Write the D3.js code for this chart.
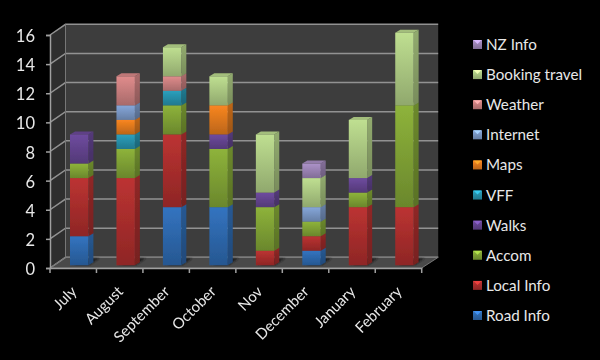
<!DOCTYPE html>
<html>
<head>
<meta charset="utf-8">
<script src="https://cdn.jsdelivr.net/npm/d3@7"></script>
<style>
    html, body { margin: 0; padding: 0; background: #000; }
    text { font-family: Lato, "Open Sans", sans-serif; fill: #e8e8e8; }
    .axis text { font-size: 16.5px; }
    .legend text { font-size: 15.2px; }
</style>
</head>
<body>
<svg id="chart" width="600" height="360"></svg>
<script>
const months = ["July", "August", "September", "October", "Nov", "December", "January", "February"];
const seriesNames = ["Road Info", "Local Info", "Accom", "Walks", "VFF", "Maps", "Internet", "Weather", "Booking travel", "NZ Info"];
const seriesColours = ["#3272bd", "#b93231", "#8bb03a", "#6c4a9c", "#2a9dba", "#f58420", "#84a4d6", "#dc8a8a", "#bcdb8e", "#a98fc4"];
const yTicks = [0, 2, 4, 6, 8, 10, 12, 14, 16];

const roadInfo = [2, 0, 4, 4, 0, 1, 0, 0];
const localInfo = [4, 6, 5, 0, 1, 1, 4, 4];
const accom = [1, 2, 2, 4, 3, 1, 1, 7];
const walks = [2, 0, 0, 1, 1, 0, 1, 0];
const vff = [0, 1, 1, 0, 0, 0, 0, 0];
const maps = [0, 1, 0, 2, 0, 0, 0, 0];
const internet = [0, 1, 0, 0, 0, 1, 0, 0];
const weather = [0, 2, 1, 0, 0, 0, 0, 0];
const bookingTravel = [0, 0, 2, 2, 4, 2, 4, 5];
const nzInfo = [0, 0, 0, 0, 0, 1, 0, 0];

const seriesValues = [roadInfo, localInfo, accom, walks, vff, maps, internet, weather, bookingTravel, nzInfo];

// Fake 3D box geometry
const front = {left: 50, right: 421.7, bottom: 268, top: 35};
const depth = {x: 15.5, y: -10.7};
const barDepth = {x: 5, y: -3};
const barWidth = 18.4;
const barShift = 20;

const svg = d3.select("#chart");
const defs = svg.append("defs");

const x = d3.scaleBand().domain(months).range([front.left, front.right]);
const yFront = d3.scaleLinear().domain([0, 16]).range([front.bottom, front.top]);
const yBack = d3.scaleLinear().domain([0, 16]).range([front.bottom + depth.y, front.top + depth.y]);
const yBar = d3.scaleLinear().domain([0, 16]).range([265.3, 32.7]);
const colour = d3.scaleOrdinal().domain(seriesNames).range(seriesColours);

// Gradients for each series: faces go lighter to darker downwards
seriesNames.forEach((name, i) => {
    const c = d3.color(colour(name));
    const faces = [
        {id: `front${i}`, top: c.brighter(0.05), bottom: c.darker(0.75)},
        {id: `side${i}`, top: c.darker(0.7), bottom: c.darker(1.25)}
    ];
    for (let face of faces) {
        const g = defs.append("linearGradient").attr("id", face.id)
            .attr("x1", 0).attr("x2", 0).attr("y1", 0).attr("y2", 1);
        g.append("stop").attr("offset", 0).attr("stop-color", face.top);
        g.append("stop").attr("offset", 1).attr("stop-color", face.bottom);
    }
});
defs.append("filter").attr("id", "shadow").append("feGaussianBlur").attr("stdDeviation", 1.2);
defs.append("filter").attr("id", "soft").append("feGaussianBlur").attr("stdDeviation", 0.35);

const plot = svg.append("g").attr("filter", "url(#soft)");

// Walls and floor
const wallLeft = front.left + depth.x, wallRight = front.right + depth.x + 1;
plot.append("rect")
    .attr("x", wallLeft).attr("y", yBack(16))
    .attr("width", wallRight - wallLeft).attr("height", yBack(0) - yBack(16))
    .attr("fill", "#3d3d3d");
plot.append("polygon")
    .attr("points", [[front.left, yFront(16)], [wallLeft, yBack(16)], [wallLeft, yBack(0)], [front.left, yFront(0)]].join(" "))
    .attr("fill", "#2e2e2e");
plot.append("polygon")
    .attr("points", [[front.left, yFront(0)], [wallLeft, yBack(0)], [wallRight, yBack(0)], [front.right, yFront(0)]].join(" "))
    .attr("fill", "#4a4a4a");

// Gridlines on the side and back walls
const grid = plot.append("g").attr("fill", "none").attr("stroke", "#929292").attr("stroke-width", 1.5);
grid.selectAll("path").data(yTicks).join("path")
    .attr("d", d => `M${front.left},${yFront(d)}L${wallLeft},${yBack(d)}L${wallRight},${yBack(d)}`);
plot.append("path")
    .attr("d", `M${front.left},${yFront(0)}L${wallLeft},${yBack(0)}L${wallRight},${yBack(0)}L${front.right},${yFront(0)}Z`)
    .attr("fill", "none").attr("stroke", "#777");
plot.append("path")
    .attr("d", `M${wallLeft},${yBack(0)}V${yBack(16)}`)
    .attr("fill", "none").attr("stroke", "#777");

// Axes
const yAxis = plot.append("g").attr("class", "axis")
    .attr("transform", `translate(${front.left},0)`)
    .call(d3.axisLeft(yFront).tickValues(yTicks).tickSize(4).tickPadding(11));
yAxis.selectAll("text").attr("dy", "0.4em");
const xAxis = plot.append("g").attr("class", "axis")
    .attr("transform", `translate(0,${front.bottom})`)
    .call(d3.axisBottom(x).tickSize(0).tickFormat(""));
xAxis.selectAll(".tick").remove();
xAxis.selectAll(".edge").data(d3.range(months.length + 1)).join("line")
    .attr("x1", i => front.left + i * x.bandwidth()).attr("x2", i => front.left + i * x.bandwidth())
    .attr("y1", 0).attr("y2", 5);
plot.selectAll(".axis path, .axis line").attr("stroke", "#a0a0a0").attr("stroke-width", 1.5);

plot.append("g").attr("class", "axis")
    .selectAll("text").data(months).join("text")
    .attr("text-anchor", "end")
    .attr("transform", d => `translate(${x(d) + x.bandwidth() / 2 - 3},${front.bottom + 17}) rotate(-45)`)
    .attr("dy", "0.7em")
    .style("font-size", "15px")
    .text(d => d);

// Bars
const stackRows = months.map((m, i) => {
    const row = {month: m};
    seriesNames.forEach((name, s) => { row[name] = seriesValues[s][i]; });
    return row;
});
const stacked = d3.stack().keys(seriesNames)(stackRows);

const barLeft = m => x(m) + barShift;

// floor shadows
plot.append("g").selectAll("polygon").data(months).join("polygon")
    .attr("points", m => [
        [barLeft(m) + 2, yBar(0)], [barLeft(m) + barWidth, yBar(0)],
        [barLeft(m) + barWidth + 11, yBar(0) - 7], [barLeft(m) + barWidth + 2, yBar(0) - 7]
    ].join(" "))
    .attr("fill", "#1c1c1c")
    .attr("filter", "url(#shadow)");

stacked.forEach((layer, s) => {
    const g = plot.append("g").attr("class", "series");
    const segments = layer.map((d, i) => ({m: months[i], y0: d[0], y1: d[1]})).filter(d => d.y1 > d.y0);
    const base = d3.color(seriesColours[s]);

    // side face
    g.selectAll(".side").data(segments).join("polygon")
        .attr("class", "side")
        .attr("points", d => {
            const xr = barLeft(d.m) + barWidth;
            return [[xr, yBar(d.y0)], [xr + barDepth.x, yBar(d.y0) + barDepth.y],
                    [xr + barDepth.x, yBar(d.y1) + barDepth.y], [xr, yBar(d.y1)]].join(" ");
        })
        .attr("fill", `url(#side${s})`);

    // top face
    g.selectAll(".top").data(segments).join("polygon")
        .attr("class", "top")
        .attr("points", d => {
            const xl = barLeft(d.m), yt = yBar(d.y1);
            return [[xl, yt], [xl + barDepth.x, yt + barDepth.y],
                    [xl + barWidth + barDepth.x, yt + barDepth.y], [xl + barWidth, yt]].join(" ");
        })
        .attr("fill", base.darker(0.4));

    // front face
    g.selectAll(".front").data(segments).join("rect")
        .attr("class", "front")
        .attr("x", d => barLeft(d.m))
        .attr("y", d => yBar(d.y1))
        .attr("width", barWidth)
        .attr("height", d => yBar(d.y0) - yBar(d.y1))
        .attr("fill", `url(#front${s})`);
});

// Legend, reversed so that the top of the stack comes first
const legendY = d3.scalePoint().domain(seriesNames.slice().reverse()).range([44.5, 315.5]);
const legend = svg.append("g").attr("class", "legend");
const item = legend.selectAll("g").data(seriesNames).join("g")
    .attr("transform", d => `translate(473,${legendY(d)})`);
item.append("rect")
    .attr("x", 0).attr("y", -4.5).attr("width", 9).attr("height", 9)
    .attr("fill", (d, i) => `url(#front${i})`);
item.append("polygon")
    .attr("points", "0.5,-4.5 8.5,-4.5 4.5,-0.5")
    .attr("fill", d => d3.color(colour(d)).brighter(0.7));
item.append("text")
    .attr("x", 13).attr("dy", "0.36em")
    .text(d => d);
</script>
</body>
</html>
